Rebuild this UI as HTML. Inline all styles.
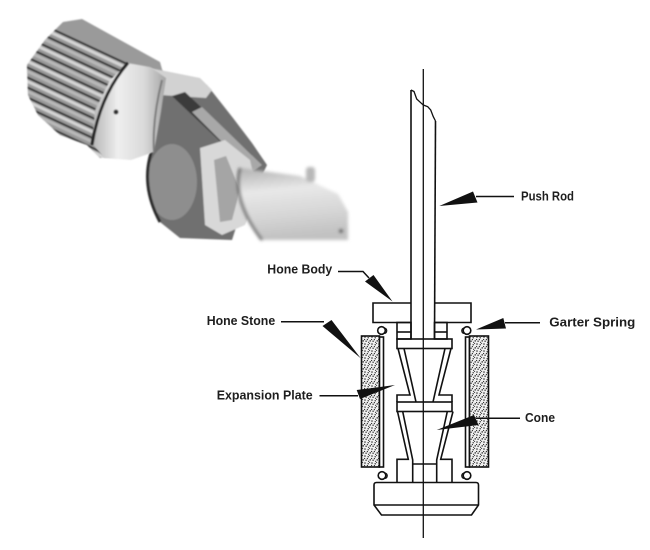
<!DOCTYPE html>
<html>
<head>
<meta charset="utf-8">
<style>
  html,body{margin:0;padding:0;background:#fff;}
  body{width:650px;height:550px;overflow:hidden;}
  svg{display:block;}
  text{font-family:"Liberation Sans",Arial,sans-serif;font-weight:bold;font-size:12.5px;fill:#1e1e1e;}
</style>
</head>
<body>
<svg width="650" height="550" viewBox="0 0 650 550" xmlns="http://www.w3.org/2000/svg">
  <defs>
    <pattern id="st" width="7" height="7" patternUnits="userSpaceOnUse">
      <rect width="7" height="7" fill="#f0f0f0"/>
      <circle cx="1" cy="1" r="0.75" fill="#222"/>
      <circle cx="4.2" cy="1.8" r="0.7" fill="#222"/>
      <circle cx="6.2" cy="4.9" r="0.75" fill="#222"/>
      <circle cx="2.1" cy="5.2" r="0.7" fill="#222"/>
      <circle cx="3.4" cy="3.6" r="0.6" fill="#222"/>
      <circle cx="0.6" cy="3.5" r="0.6" fill="#222"/>
      <circle cx="5.6" cy="0.4" r="0.55" fill="#222"/>
      <circle cx="4.6" cy="6.3" r="0.6" fill="#222"/>
    </pattern>
    <linearGradient id="ringG" x1="0" y1="0" x2="1" y2="0">
      <stop offset="0" stop-color="#b5b5b5"/>
      <stop offset="0.35" stop-color="#eeeeee"/>
      <stop offset="0.7" stop-color="#dadada"/>
      <stop offset="1" stop-color="#a5a5a5"/>
    </linearGradient>
    <linearGradient id="cylG" x1="0" y1="0" x2="0.15" y2="1">
      <stop offset="0" stop-color="#b0b0b0"/>
      <stop offset="0.35" stop-color="#e8e8e8"/>
      <stop offset="0.7" stop-color="#d6d6d6"/>
      <stop offset="1" stop-color="#c2c2c2"/>
    </linearGradient>
    <clipPath id="stoneClip">
      <polygon points="63,22 82,19 160,62 165,80 152,150 100,158 87,145 60,135 38,115 28,95 27,65 45,40"/>
    </clipPath>
    <filter id="blur1"><feGaussianBlur stdDeviation="0.9"/></filter>
    <filter id="blur2"><feGaussianBlur stdDeviation="1.6"/></filter>
  </defs>

  <rect width="650" height="550" fill="#fff"/>

  <!-- ========== PHOTO APPROXIMATION ========== -->
  <g>
    <!-- stone cluster -->
    <g filter="url(#blur1)">
      <polygon points="63,22 82,19 160,62 165,80 152,150 100,158 87,145 60,135 38,115 28,95 27,65 45,40" fill="#9a9a9a"/>
      <g clip-path="url(#stoneClip)">
        <g stroke="#2e2e2e" stroke-width="2">
          <line x1="20" y1="14" x2="200" y2="98"/>
          <line x1="20" y1="24" x2="200" y2="108"/>
          <line x1="20" y1="34" x2="200" y2="118"/>
          <line x1="20" y1="44" x2="200" y2="128"/>
          <line x1="20" y1="54" x2="200" y2="138"/>
          <line x1="20" y1="64" x2="200" y2="148"/>
          <line x1="20" y1="74" x2="200" y2="158"/>
          <line x1="20" y1="84" x2="200" y2="168"/>
          <line x1="20" y1="94" x2="200" y2="178"/>
          <line x1="20" y1="104" x2="200" y2="188"/>
          <line x1="20" y1="114" x2="200" y2="198"/>
          <line x1="20" y1="124" x2="200" y2="208"/>
        </g>
        <g stroke="#d4d4d4" stroke-width="3">
          <line x1="20" y1="18" x2="200" y2="102"/>
          <line x1="20" y1="38" x2="200" y2="122"/>
          <line x1="20" y1="58" x2="200" y2="142"/>
          <line x1="20" y1="78" x2="200" y2="162"/>
          <line x1="20" y1="98" x2="200" y2="182"/>
          <line x1="20" y1="118" x2="200" y2="202"/>
        </g>
        <g stroke="#b8b8b8" stroke-width="3">
          <line x1="20" y1="28" x2="200" y2="112"/>
          <line x1="20" y1="48" x2="200" y2="132"/>
          <line x1="20" y1="68" x2="200" y2="152"/>
          <line x1="20" y1="88" x2="200" y2="172"/>
          <line x1="20" y1="108" x2="200" y2="192"/>
        </g>
      </g>
    </g>
    <!-- mid section -->
    <g filter="url(#blur1)">
      <polygon points="152,70 207,85 233,118 252,143 267,165 255,190 240,215 232,240 180,238 160,222 147,190 150,155" fill="#6f6f6f"/>
      <polygon points="150,68 200,78 212,90 206,98 160,95 152,88" fill="#d2d2d2"/>
      <polygon points="172,96 185,92 252,155 245,165" fill="#3a3a3a"/>
      <polygon points="192,112 202,107 262,165 252,172" fill="#a8a8a8"/>
      <ellipse cx="172" cy="182" rx="25" ry="38" fill="#8e8e8e"/>
      <path d="M152,150 Q140,185 160,222" stroke="#2a2a2a" stroke-width="3" fill="none"/>
      <polygon points="200,148 225,140 250,160 258,195 245,225 222,235 205,225" fill="#d8d8d8"/>
      <polygon points="214,160 226,156 240,190 232,220 220,222" fill="#a5a5a5"/>
    </g>
    <!-- ring -->
    <g filter="url(#blur1)">
      <path d="M128,63 L150,67 L166,78 L161,112 L154,152 L131,160 L104,158 L92,143 L95,110 L110,80 Z" fill="url(#ringG)"/>
      <path d="M128,63 Q100,95 92,145" stroke="#222" stroke-width="3" fill="none"/>
      <path d="M162,80 Q152,120 154,152" stroke="#7a7a7a" stroke-width="2" fill="none"/>
      <circle cx="116" cy="112" r="2.5" fill="#333"/>
    </g>
    <!-- silver cylinder -->
    <g filter="url(#blur2)">
      <polygon points="240,168 300,176 338,194 348,212 348,240 262,240 248,222 238,196" fill="url(#cylG)"/>
      <path d="M240,168 Q232,200 262,240" stroke="#555" stroke-width="2.5" fill="none"/>
      <rect x="306" y="167" width="9" height="15" rx="3" fill="#b8b8b8"/>
      <circle cx="341" cy="231" r="2" fill="#333"/>
    </g>
  </g>

  <!-- ========== DRAWING ========== -->
  <g stroke="#111" stroke-width="1.6" fill="none" stroke-linejoin="miter">
    <!-- stones -->
    <rect x="361.5" y="336" width="18" height="131" fill="url(#st)"/>
    <rect x="379.5" y="337" width="4" height="130" fill="#fff"/>
    <rect x="465.5" y="337" width="4" height="130" fill="#fff"/>
    <rect x="469.5" y="336" width="19" height="131" fill="url(#st)"/>

    <!-- springs -->
    <circle cx="381.5" cy="330.5" r="3.8" fill="#fff"/>
    <path d="M384.5,328 q3,1 2,4 q-1,2 -3,1" stroke-width="1.2"/>
    <circle cx="467" cy="330.5" r="3.8" fill="#fff"/>
    <path d="M464,328 q-3,1 -2,4 q1,2 3,1" stroke-width="1.2"/>
    <circle cx="382" cy="475.5" r="3.8" fill="#fff"/>
    <path d="M385,473 q3,1 2,4 q-1,2 -3,1" stroke-width="1.2"/>
    <circle cx="467" cy="475.5" r="3.8" fill="#fff"/>
    <path d="M464,473 q-3,1 -2,4 q1,2 3,1" stroke-width="1.2"/>

    <!-- center line -->
    <line x1="423.3" y1="69" x2="423.3" y2="538" stroke-width="1.3"/>

    <!-- push rod -->
    <line x1="411" y1="90" x2="411" y2="339"/>
    <line x1="435.5" y1="121" x2="434.5" y2="339"/>
    <polyline points="411,90 414,91.5 416.7,99 420.7,102.7 423.3,105 427.7,106.7 430.7,110 433.3,116.7 435.5,121" stroke-width="1.3"/>

    <!-- hone body plate -->
    <path d="M411,303 H373 V322.5 H411"/>
    <path d="M434.5,303 H471 V322.5 H434.5"/>

    <!-- collars -->
    <rect x="397" y="322.5" width="14" height="16.5"/>
    <line x1="397" y1="332" x2="411" y2="332"/>
    <rect x="434.5" y="322.5" width="12.5" height="16.5"/>
    <line x1="434.5" y1="332" x2="447" y2="332"/>

    <!-- bar 1 -->
    <rect x="397" y="339" width="55" height="9.5"/>

    <!-- upper cone (expansion plates) -->
    <path d="M398,348.5 L410,395 H397 V402"/>
    <line x1="404" y1="348.5" x2="416" y2="402"/>
    <path d="M451,348.5 L439,395 H452 V402"/>
    <line x1="445" y1="348.5" x2="433" y2="402"/>

    <!-- bar 2 -->
    <rect x="397" y="402" width="55" height="9.5"/>

    <!-- lower cone -->
    <path d="M397.5,411.5 L408.3,459.3 H397 V482.5"/>
    <path d="M402.7,411.5 L412.7,460 V482.5"/>
    <path d="M453,411.5 L440.7,459.3 H452 V482.5"/>
    <path d="M447.3,411.5 L436.7,460 V482.5"/>
    <line x1="412.7" y1="464" x2="436.7" y2="464"/>

    <!-- base -->
    <path d="M376.5,482.5 H476 Q478.5,482.5 478.5,485 V505 L471.5,515 H381.5 L374,505 V485 Q374,482.5 376.5,482.5 Z"/>
    <line x1="374" y1="505" x2="478.5" y2="505"/>
  </g>

  <!-- ========== LEADERS ========== -->
  <g stroke="#111" stroke-width="1.5" fill="none">
    <line x1="476" y1="196.5" x2="514" y2="196.5"/>
    <polyline points="338,271.5 363,271.5 369,278"/>
    <line x1="281" y1="321.7" x2="324" y2="321.7"/>
    <line x1="319.5" y1="395.7" x2="358" y2="395.7"/>
    <line x1="505" y1="322.7" x2="540" y2="322.7"/>
    <line x1="476" y1="418.3" x2="520" y2="418.3"/>
  </g>
  <g fill="#111">
    <polygon points="473,191.5 477.5,202.5 439.3,206"/>
    <polygon points="365,281.5 373.5,275 392.5,301.5"/>
    <polygon points="322.5,326 331.5,320 360.7,358.3"/>
    <polygon points="356.7,390 360,399 395,385"/>
    <polygon points="503.3,318 506,328.5 476,329.5"/>
    <polygon points="474,415 478.5,425 436.7,430"/>
  </g>

  <!-- ========== LABELS ========== -->
  <text x="521" y="200.5" textLength="53" lengthAdjust="spacingAndGlyphs">Push Rod</text>
  <text x="267.3" y="273.5" textLength="65" lengthAdjust="spacingAndGlyphs">Hone Body</text>
  <text x="206.7" y="325.2" textLength="68.5" lengthAdjust="spacingAndGlyphs">Hone Stone</text>
  <text x="216.7" y="399.5" textLength="96" lengthAdjust="spacingAndGlyphs">Expansion Plate</text>
  <text x="549.3" y="326.5" textLength="86" lengthAdjust="spacingAndGlyphs">Garter Spring</text>
  <text x="525" y="421.8" textLength="30" lengthAdjust="spacingAndGlyphs">Cone</text>
</svg>
</body>
</html>
